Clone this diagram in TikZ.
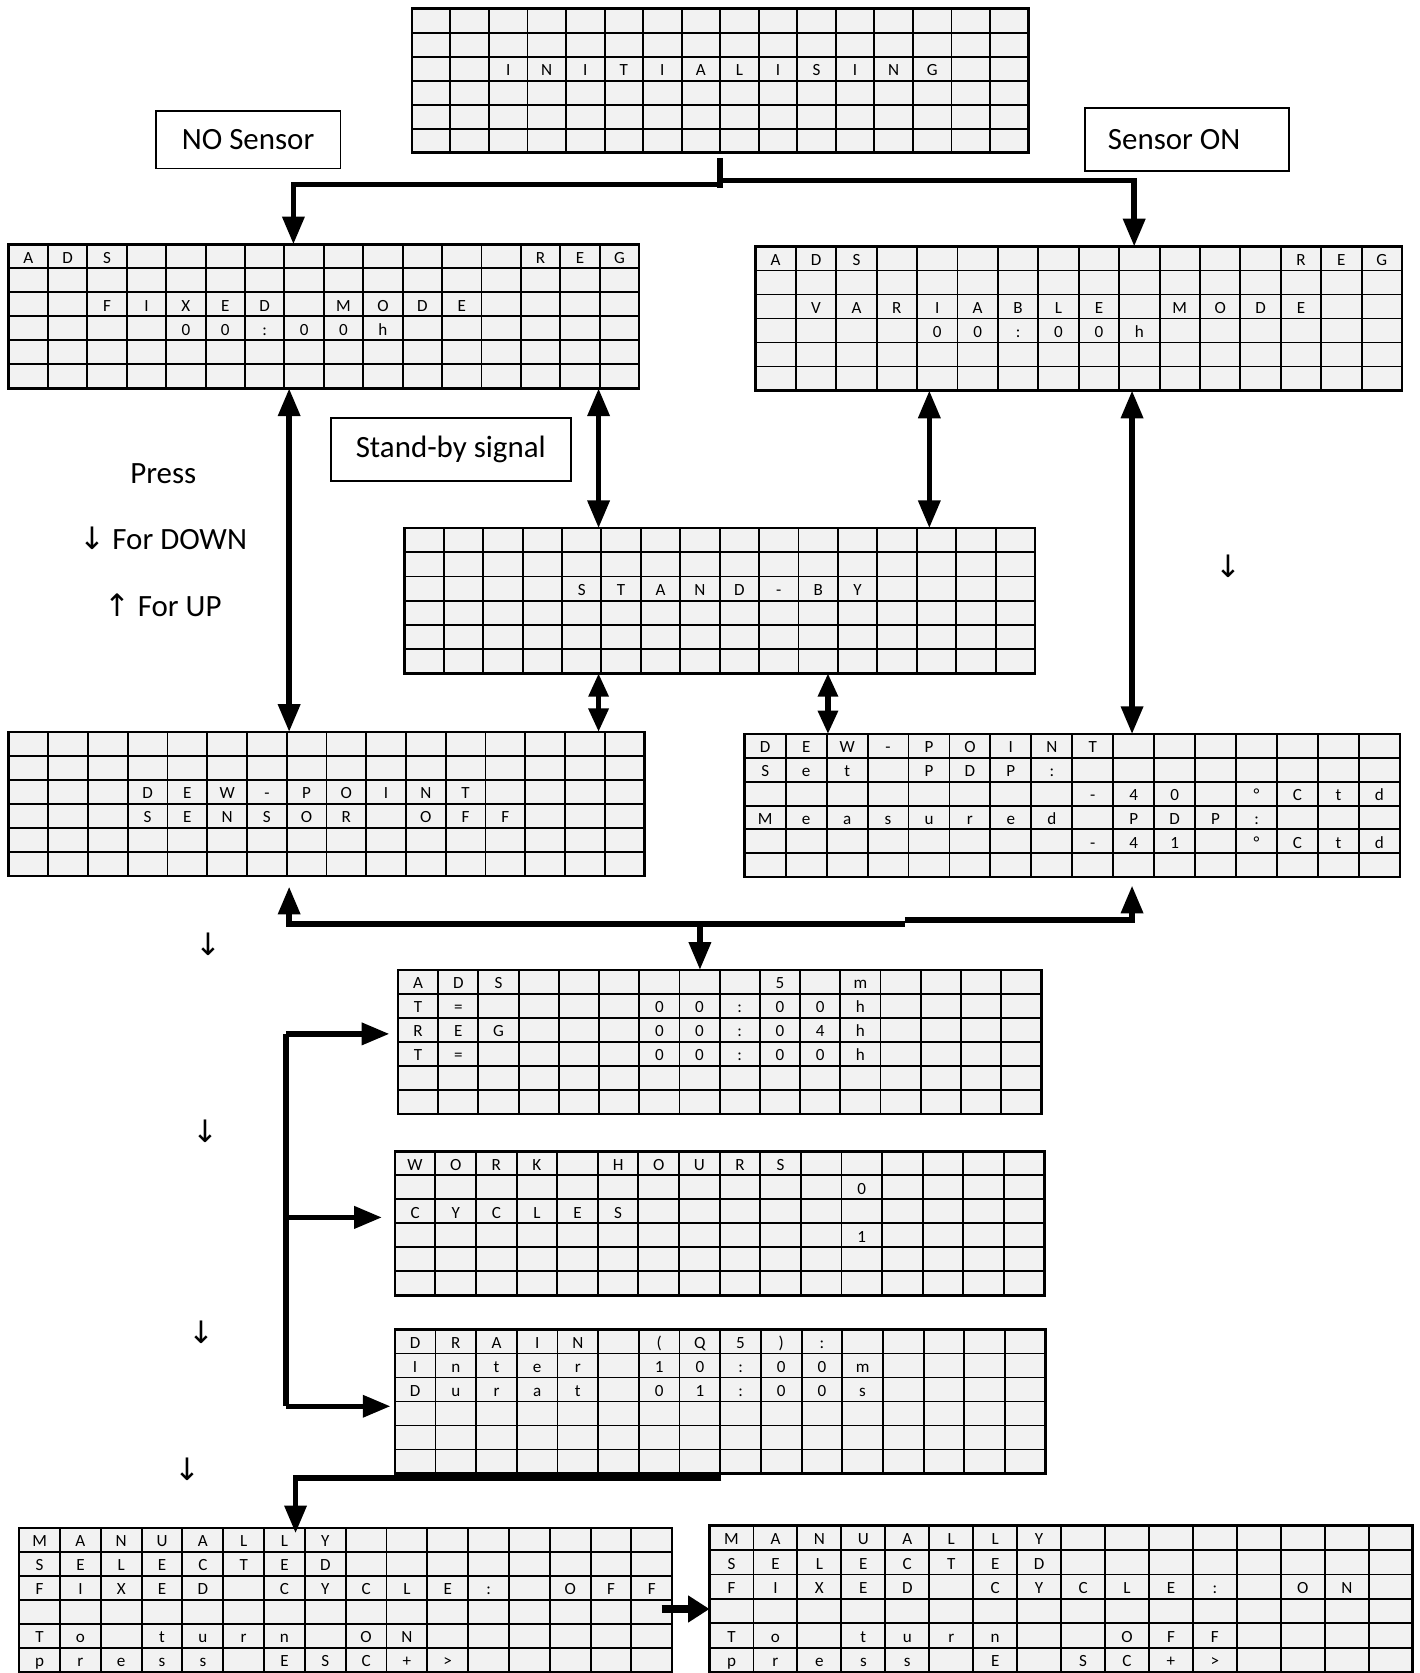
\documentclass[tikz,border=0pt]{standalone}
\usepackage{fontspec}
\setmainfont{Carlito}
\newfontfamily\arrowfont{DejaVu Sans}
\usetikzlibrary{arrows.meta,calc}
\definecolor{lcdgray}{HTML}{F2F2F2}
\tikzset{
  lcdbox/.style={draw=black, line width=1.2pt, fill=lcdgray, inner sep=0pt, outer sep=0pt},
  lcdline/.style={black, line width=0.9pt},
  lcdborder/.style={black, line width=1.2pt},
  cell/.style={font=\fontsize{8}{9}\selectfont, inner sep=0pt, text height=0.64em, text depth=0pt, anchor=center},
  lblbox/.style={draw=black, line width=0.8pt, fill=white, inner sep=0pt, outer sep=0pt, font=\fontsize{14.5}{16}\selectfont},
  txt/.style={font=\fontsize{14.5}{16}\selectfont, inner sep=0pt},
  thk/.style={line width=2.6pt},
  tip/.style={-{Triangle[width=10pt,length=13pt]}},
  dbl/.style={{Triangle[width=10pt,length=13pt]}-{Triangle[width=10pt,length=13pt]}},
  dbls/.style={{Triangle[width=9pt,length=11pt]}-{Triangle[width=9pt,length=11pt]}}
}
\newcommand\lcdgrid[6]{%
  \pgfmathsetmacro\lcw{(#4-#2)/16}%
  \pgfmathsetmacro\lch{(#5-#3)/6}%
  \node[lcdbox, anchor=north west, minimum width={(#4-#2)*0.5pt}, minimum height={(#5-#3)*0.5pt}] (#1) at (#2,-#3) {};
  \foreach \ii in {1,...,15} {\draw[lcdline] ({#2+\ii*\lcw},-#3) -- ({#2+\ii*\lcw},-#5);}
  \foreach \jj in {1,...,5} {\draw[lcdline] (#2,{-#3-\jj*\lch}) -- (#4,{-#3-\jj*\lch});}
  \foreach \rowi/\coli/\chari in {#6} {\node[cell] at ({#2+(\coli+0.5)*\lcw},{-#3-(\rowi+0.5)*\lch}) {\chari};}
  \draw[lcdborder] (#1.north west) rectangle (#1.south east);
}
\begin{document}
\begin{tikzpicture}[x=0.5pt,y=0.5pt]
\useasboundingbox[fill=white] (0,0) rectangle (1330,-1568);

\lcdgrid{init}{386}{8}{964}{143}{2/2/I,2/3/N,2/4/I,2/5/T,2/6/I,2/7/A,2/8/L,2/9/I,2/10/S,2/11/I,2/12/N,2/13/G}
\lcdgrid{fixed}{8}{229}{599}{364}{0/0/A,0/1/D,0/2/S,0/13/R,0/14/E,0/15/G,2/2/F,2/3/I,2/4/X,2/5/E,2/6/D,2/8/M,2/9/O,2/10/D,2/11/E,3/4/0,3/5/0,3/6/:,3/7/0,3/8/0,3/9/h}
\lcdgrid{var}{708}{231}{1314}{366}{0/0/A,0/1/D,0/2/S,0/13/R,0/14/E,0/15/G,2/1/V,2/2/A,2/3/R,2/4/I,2/5/A,2/6/B,2/7/L,2/8/E,2/10/M,2/11/O,2/12/D,2/13/E,3/4/0,3/5/0,3/6/:,3/7/0,3/8/0,3/9/h}
\lcdgrid{standby}{379}{495}{970}{631}{2/4/S,2/5/T,2/6/A,2/7/N,2/8/D,2/9/-,2/10/B,2/11/Y}
\lcdgrid{dewl}{8}{686}{604}{821}{2/3/D,2/4/E,2/5/W,2/6/-,2/7/P,2/8/O,2/9/I,2/10/N,2/11/T,3/3/S,3/4/E,3/5/N,3/6/S,3/7/O,3/8/R,3/10/O,3/11/F,3/12/F}
\lcdgrid{dewr}{698}{688}{1312}{822}{0/0/D,0/1/E,0/2/W,0/3/-,0/4/P,0/5/O,0/6/I,0/7/N,0/8/T,1/0/S,1/1/e,1/2/t,1/4/P,1/5/D,1/6/P,1/7/:,2/8/-,2/9/4,2/10/0,2/12/°,2/13/C,2/14/t,2/15/d,3/0/M,3/1/e,3/2/a,3/3/s,3/4/u,3/5/r,3/6/e,3/7/d,3/9/P,3/10/D,3/11/P,3/12/:,4/8/-,4/9/4,4/10/1,4/12/°,4/13/C,4/14/t,4/15/d}
\lcdgrid{ads}{373}{909}{976}{1044}{0/0/A,0/1/D,0/2/S,0/9/5,0/11/m,1/0/T,1/1/=,1/6/0,1/7/0,1/8/:,1/9/0,1/10/0,1/11/h,2/0/R,2/1/E,2/2/G,2/6/0,2/7/0,2/8/:,2/9/0,2/10/4,2/11/h,3/0/T,3/1/=,3/6/0,3/7/0,3/8/:,3/9/0,3/10/0,3/11/h}
\lcdgrid{work}{370}{1079}{979}{1214}{0/0/W,0/1/O,0/2/R,0/3/K,0/5/H,0/6/O,0/7/U,0/8/R,0/9/S,1/11/0,2/0/C,2/1/Y,2/2/C,2/3/L,2/4/E,2/5/S,3/11/1}
\lcdgrid{drain}{370}{1246}{980}{1381}{0/0/D,0/1/R,0/2/A,0/3/I,0/4/N,0/6/{(},0/7/Q,0/8/5,0/9/{)},0/10/:,1/0/I,1/1/n,1/2/t,1/3/e,1/4/r,1/6/1,1/7/0,1/8/:,1/9/0,1/10/0,1/11/m,2/0/D,2/1/u,2/2/r,2/3/a,2/4/t,2/6/0,2/7/1,2/8/:,2/9/0,2/10/0,2/11/s}
\lcdgrid{manl}{18}{1432}{630}{1567}{0/0/M,0/1/A,0/2/N,0/3/U,0/4/A,0/5/L,0/6/L,0/7/Y,1/0/S,1/1/E,1/2/L,1/3/E,1/4/C,1/5/T,1/6/E,1/7/D,2/0/F,2/1/I,2/2/X,2/3/E,2/4/D,2/6/C,2/7/Y,2/8/C,2/9/L,2/10/E,2/11/:,2/13/O,2/14/F,2/15/F,4/0/T,4/1/o,4/3/t,4/4/u,4/5/r,4/6/n,4/8/O,4/9/N,5/0/p,5/1/r,5/2/e,5/3/s,5/4/s,5/6/E,5/7/S,5/8/C,5/9/+,5/10/>}
\lcdgrid{manr}{665}{1430}{1324}{1567}{0/0/M,0/1/A,0/2/N,0/3/U,0/4/A,0/5/L,0/6/L,0/7/Y,1/0/S,1/1/E,1/2/L,1/3/E,1/4/C,1/5/T,1/6/E,1/7/D,2/0/F,2/1/I,2/2/X,2/3/E,2/4/D,2/6/C,2/7/Y,2/8/C,2/9/L,2/10/E,2/11/:,2/13/O,2/14/N,4/0/T,4/1/o,4/3/t,4/4/u,4/5/r,4/6/n,4/9/O,4/10/F,4/11/F,5/0/p,5/1/r,5/2/e,5/3/s,5/4/s,5/6/E,5/8/S,5/9/C,5/10/+,5/11/>}

% label boxes
\node[lblbox, anchor=north west, minimum width=86.5pt, minimum height=27pt] (nosensor) at (146,-104) {NO Sensor};
\node[lblbox, anchor=north west, minimum width=95.5pt, minimum height=29.5pt] (sensoron) at (1017,-101) {Sensor ON\kern12pt};
\node[lblbox, anchor=north west, minimum width=112.5pt, minimum height=29.5pt] (sbsignal) at (310,-392) {Stand-by signal};

% free texts
\node[txt] (press) at (153,-444) {Press};
\node[txt] (fdown) at (153,-505) {{\arrowfont ↓} For DOWN};
\node[txt] (fup) at (153,-567) {{\arrowfont ↑} For UP};
\node[txt] (dn1) at (1151,-531) {\arrowfont ↓};
\node[txt] (dn2) at (195,-885) {\arrowfont ↓};
\node[txt] (dn3) at (193,-1060) {\arrowfont ↓};
\node[txt] (dn4) at (189,-1249) {\arrowfont ↓};
\node[txt] (dn5) at (176,-1377) {\arrowfont ↓};

% coordinates for connectors
\coordinate (stubtop) at (675,-148);
\coordinate (stub) at (675,-176);
\coordinate (splitl) at (675,-173);
\coordinate (splitr) at (675,-169);
\coordinate (xl) at (275,0);
\coordinate (xr) at (1063,0);
\coordinate (v1) at (271,0);
\coordinate (v2) at (561,0);
\coordinate (v3) at (871,0);
\coordinate (v4) at (1061,0);
\coordinate (v5) at (776,0);
\coordinate (hbl) at (0,-866);
\coordinate (hbr) at (0,-862);
\coordinate (step) at (848,0);
\coordinate (v6) at (656,0);
\coordinate (bx) at (268,0);
\coordinate (ya) at (0,-969);
\coordinate (yw) at (0,-1141);
\coordinate (yd) at (0,-1318);
\coordinate (dr) at (676,-1385);
\coordinate (vm) at (277,0);
\coordinate (ym) at (0,-1508);

% top split
\draw[thk] (stubtop) -- (stub);
\draw[thk, tip, line join=miter] (splitl) -- (xl |- splitl) -- (xl |- fixed.north);
\draw[thk, tip, line join=miter] (splitr) -- (xr |- splitr) -- (xr |- var.north);

% double arrows
\draw[thk, dbl] (v1 |- fixed.south) -- (v1 |- dewl.north);
\draw[thk, dbl] (v2 |- fixed.south) -- (v2 |- standby.north);
\draw[thk, dbl] (v3 |- var.south) -- (v3 |- standby.north);
\draw[thk, dbl] (v4 |- var.south) -- (v4 |- dewr.north);
\draw[thk, dbls] (v2 |- standby.south) -- (v2 |- dewl.north);
\draw[thk, dbls] (v5 |- standby.south) -- (v5 |- dewr.north);

% bottom junction
\draw[thk, tip, line join=miter, shorten >=5pt] (step |- hbl) -- (v1 |- hbl) -- (v1 |- dewl.south);
\draw[thk, tip, line join=miter, shorten >=4pt] (step |- hbr) -- (v4 |- hbr) -- (v4 |- dewr.south);
\draw[thk, tip] (v6 |- hbl) -- (v6 |- ads.north);

% left bracket
\draw[thk, line join=miter] (bx |- ya) -- (bx |- yd);
\draw[thk, tip, shorten >=4pt] (bx |- ya) -- (ads.west |- ya);
\draw[thk, tip, shorten >=6pt] (bx |- yw) -- (work.west |- yw);
\draw[thk, tip, shorten >=2pt] (bx |- yd) -- (drain.west |- yd);

% drain to manual
\draw[thk, tip, line join=miter] (dr) -- (vm |- dr) -- ($(vm |- manl.north)+(0,-5)$);

% manual off -> on
\draw[line width=4pt, -{Triangle[width=12pt,length=10pt]}] ($(manl.east |- ym)+(-10,0)$) -- (manr.west |- ym);
\end{tikzpicture}
\end{document}
